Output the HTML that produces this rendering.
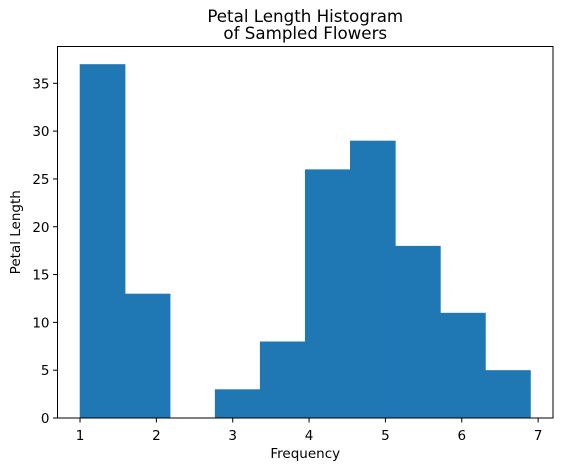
<!DOCTYPE html>
<html><head><meta charset="utf-8"><style>
body{margin:0;background:#fff;font-family:"DejaVu Sans","Liberation Sans",sans-serif}
</style></head><body>
<svg width="563" height="470" xmlns="http://www.w3.org/2000/svg">
<g id="plot"></g>
</svg>
<script>
const binEdges=[1.0,1.59,2.18,2.77,3.36,3.95,4.54,5.13,5.72,6.31,6.9];
const counts=[37,13,0,3,8,26,29,18,11,5];
const xTicks=[1,2,3,4,5,6,7];
const yTicks=[0,5,10,15,20,25,30,35];
const L=57.5,T=46.5,W=495.5,H=371.5;
const xmin=0.705,xmax=7.195,ymin=0,ymax=38.85;
const X=v=>L+(v-xmin)/(xmax-xmin)*W;
const Y=v=>T+H-(v-ymin)/(ymax-ymin)*H;
const g=document.getElementById('plot');
const NS='http://www.w3.org/2000/svg';
function mk(t,a){const e=document.createElementNS(NS,t);for(const k in a)e.setAttribute(k,a[k]);g.appendChild(e);return e;}
counts.forEach((c,i)=>{if(c<=0)return;const r=mk('rect',{x:X(binEdges[i])-0.3,y:Y(c),width:X(binEdges[i+1])-X(binEdges[i])+0.6,height:Y(0)-Y(c),fill:'#1f77b4'});

});
const f=mk('rect',{x:L,y:T,width:W,height:H,fill:'none',stroke:'#000','stroke-width':1});


xTicks.forEach(v=>{const x=X(v);mk('line',{x1:x,x2:x,y1:T+H,y2:T+H+4.5,stroke:'#000'});
const t=mk('text',{x:x,y:T+H+22,'text-anchor':'middle','font-size':13.5,fill:'#000'});t.textContent=v;

});
yTicks.forEach(v=>{const y=Y(v);mk('line',{x1:L-4.5,x2:L,y1:y,y2:y,stroke:'#000'});
const t=mk('text',{x:L-8,y:y+5,'text-anchor':'end','font-size':13.5,fill:'#000'});t.textContent=v;

});
let t=mk('text',{x:L+W/2,y:458,'text-anchor':'middle','font-size':13.5});t.textContent='Frequency';


t=mk('text',{x:0,y:0,'text-anchor':'middle','font-size':13.5,transform:`translate(20,${T+H/2}) rotate(-90)`});t.textContent='Petal Length';


t=mk('text',{x:L+W/2,y:22,'text-anchor':'middle','font-size':16.7});t.textContent='Petal Length Histogram';


t=mk('text',{x:L+W/2,y:39,'text-anchor':'middle','font-size':16.7});t.textContent='of Sampled Flowers';


</script>
</body></html>
